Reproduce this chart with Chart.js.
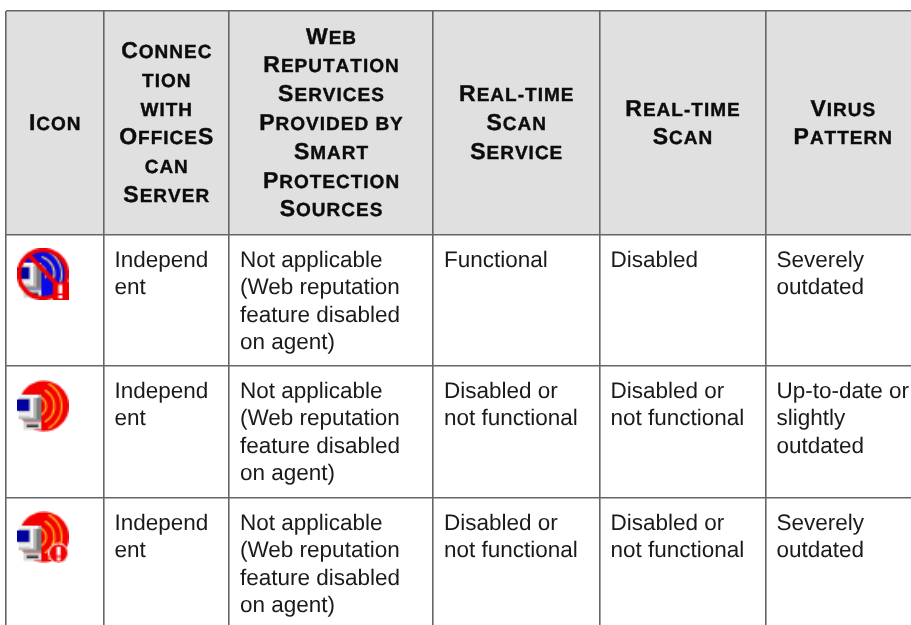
<!DOCTYPE html>
<html>
<head>
<meta charset="utf-8">
<title>Agent icons table</title>
<script src="https://cdn.jsdelivr.net/npm/chart.js@4/dist/chart.umd.min.js"></script>
<style>
  html,body{margin:0;padding:0;background:#fff;overflow:hidden}
  canvas{display:block}
</style>
</head>
<body>
<canvas id="tbl" width="911" height="625"></canvas>
<script>
/* ── TABLE CONTENT ───────────────────────────────────────── */
const headIcon     = ['Icon'];
const headConn     = ['Connec','tion','with','OfficeS','can','Server'];
const headWeb      = ['Web','Reputation','Services','Provided by','Smart','Protection','Sources'];
const headRtService= ['Real-time','Scan','Service'];
const headRtScan   = ['Real-time','Scan'];
const headPattern  = ['Virus','Pattern'];

const connValues    = [['Independ','ent'],['Independ','ent'],['Independ','ent']];
const webValues     = [
  ['Not applicable','(Web reputation','feature disabled','on agent)'],
  ['Not applicable','(Web reputation','feature disabled','on agent)'],
  ['Not applicable','(Web reputation','feature disabled','on agent)']
];
const serviceValues = [['Functional'],['Disabled or','not functional'],['Disabled or','not functional']];
const scanValues    = [['Disabled'],['Disabled or','not functional'],['Disabled or','not functional']];
const patternValues = [['Severely','outdated'],['Up-to-date or','slightly','outdated'],['Severely','outdated']];

const iconKinds = ['blocked','alert','alertRound'];

/* column and row rules, in px from the table's top-left corner */
const columnEdges = [0,97.5,223,427,593.5,759.5];
const rowEdges    = [0,224,355,487];
const iconOffsets = [{x:37,y:263},{x:37,y:395},{x:37,y:526}];

/* ── ICONS ───────────────────────────────────────────────── */
function monitor(c){
  c.fillStyle='#b4b4b4'; c.fillRect(1,9,14,15);
  c.fillStyle='#f4f4f4'; c.fillRect(1,9,12,2); c.fillRect(8,11,2,12);
  c.fillStyle='#7c7c7c'; c.fillRect(12,11,3,13);
  c.fillStyle='#00009c'; c.fillRect(0,12,7.5,7);
  c.fillStyle='#eee';    c.fillRect(1,19.5,8,3);
  c.fillStyle='#8a8a8a'; c.fillRect(4,24,11,1.5);
  c.fillStyle='#d4d4d4'; c.fillRect(4,25.5,11,5);
  c.fillStyle='#333';    c.fillRect(6,27.5,7,1.5);
}
function arcs(c,col,from,to){
  c.strokeStyle=col; c.lineWidth=1.1; c.lineCap='round';
  [6,11,15.5].forEach(r=>{ c.beginPath(); c.arc(12,16,r,from,to); c.stroke(); });
}
function makeIcon(kind){
  const a=document.createElement('canvas'); a.width=a.height=32;
  const c=a.getContext('2d');
  if(kind==='blocked'){
    c.fillStyle='#0808e8'; c.beginPath(); c.arc(16,16,14.5,0,Math.PI*2); c.fill();
    c.save(); c.beginPath(); c.arc(16,16,13.5,0,Math.PI*2); c.clip();
    arcs(c,'#e8d060',-1.25,0.35);
    c.restore();
    monitor(c);
    c.strokeStyle='#f00000'; c.lineWidth=2.6;
    c.beginPath(); c.arc(16,16,14.8,0,Math.PI*2); c.stroke();
    c.beginPath(); c.moveTo(7,4); c.lineTo(27,25); c.stroke();
    c.fillStyle='#f00000'; c.fillRect(22,21,10,11);
    c.fillStyle='#fff'; c.fillRect(25.5,22.5,2.4,5.5); c.fillRect(25.5,29,2.4,2);
  }else{
    c.fillStyle='#f40000'; c.beginPath(); c.arc(16.5,16,15.5,0,Math.PI*2); c.fill();
    arcs(c,'#ffb820',-1.05,1.05);
    monitor(c);
    if(kind==='alertRound'){
      c.fillStyle='#f00000'; c.strokeStyle='#fff'; c.lineWidth=1;
      c.beginPath(); c.arc(25.5,26,6,0,Math.PI*2); c.fill(); c.stroke();
      c.fillStyle='#fff'; c.fillRect(24.4,22,2.4,5.5); c.fillRect(24.4,28.5,2.4,2);
    }
  }
  const out=document.createElement('canvas'); out.width=out.height=52;
  const o=out.getContext('2d');
  o.imageSmoothingEnabled=true;
  o.drawImage(a,0,0,52,52);
  return out;
}

/* ── PLUGINS ─────────────────────────────────────────────── */
const headerFill = {
  id:'headerFill',
  beforeDraw(chart){
    const {ctx,scales:{x,y},chartArea:a}=chart;
    ctx.save();
    ctx.fillStyle='#e0e0e0';
    ctx.fillRect(a.left,y.getPixelForValue(rowEdges[0]),a.right-a.left,
      y.getPixelForValue(rowEdges[1])-y.getPixelForValue(rowEdges[0]));
    ctx.restore();
  }
};

function smallCaps(ctx,str,cx,base){
  const big='bold 23px "Liberation Sans"', small='bold 19px "Liberation Sans"';
  const gap=1;
  let w=0;
  const runs=[...str].map(ch=>{
    const isCap=ch!==ch.toLowerCase();
    ctx.font=isCap?big:small;
    const t=ch.toUpperCase(), m=ctx.measureText(t).width+gap;
    w+=m;
    return {t,font:ctx.font,m};
  });
  let px=cx-(w-gap)/2;
  runs.forEach(r=>{
    ctx.font=r.font;
    ctx.fillText(r.t,px,base);
    ctx.strokeText(r.t,px,base);   // source header is a touch heavier than plain bold
    px+=r.m;
  });
}

const cellText = {
  id:'cellText',
  afterDraw(chart){
    const {ctx,scales:{x,y}}=chart;
    const heads=[headIcon,headConn,headWeb,headRtService,headRtScan,headPattern];
    const bodies=[null,connValues,webValues,serviceValues,scanValues,patternValues];
    const headMid=(y.getPixelForValue(rowEdges[0])+y.getPixelForValue(rowEdges[1]))/2;
    ctx.save();
    ctx.textRendering='geometricPrecision';
    ctx.textBaseline='alphabetic';
    ctx.fillStyle='#0c0c0c';
    ctx.strokeStyle='#0c0c0c';
    ctx.lineWidth=0.4;
    ctx.textAlign='left';
    heads.forEach((lines,i)=>{
      const l=x.getPixelForValue(columnEdges[i]);
      const r=i<5 ? x.getPixelForValue(columnEdges[i+1]) : 920;
      const cx=(l+r)/2;
      lines.forEach((t,k)=>{
        smallCaps(ctx,t,cx,headMid+7-(lines.length-1)*14.4+k*28.8);
      });
    });
    ctx.font='22.5px "Liberation Sans"';
    ctx.fillStyle='#1a1a1a';
    bodies.forEach((col,i)=>{
      if(!col) return;
      const l=x.getPixelForValue(columnEdges[i])+11;
      col.forEach((lines,r)=>{
        const top=y.getPixelForValue(rowEdges[r+1]);
        lines.forEach((t,k)=>ctx.fillText(t,l,top+32+k*27.3));
      });
    });
    ctx.restore();
  }
};

/* ── CHART ───────────────────────────────────────────────── */
function pinTicks(edges){
  return scale=>{ scale.ticks=edges.map(v=>({value:v})); };
}
new Chart(document.getElementById('tbl'),{
  type:'scatter',
  data:{
    datasets:[{
      data:iconOffsets,
      pointStyle:iconKinds.map(makeIcon),
      pointRadius:26,
      showLine:false,
      clip:false
    }]
  },
  options:{
    responsive:false, animation:false, events:[],
    layout:{autoPadding:false,padding:{left:6,top:11,right:0,bottom:0}},
    plugins:{legend:{display:false},tooltip:{enabled:false}},
    scales:{
      x:{type:'linear',min:0,max:905,afterBuildTicks:pinTicks(columnEdges),
         ticks:{display:false},border:{display:false},
         grid:{color:'#666',lineWidth:1.6,drawTicks:false}},
      y:{type:'linear',reverse:true,min:0,max:614,afterBuildTicks:pinTicks(rowEdges),
         ticks:{display:false},border:{display:false},
         grid:{color:'#666',lineWidth:1.6,drawTicks:false}}
    }
  },
  plugins:[headerFill,cellText]
});
</script>
</body>
</html>
